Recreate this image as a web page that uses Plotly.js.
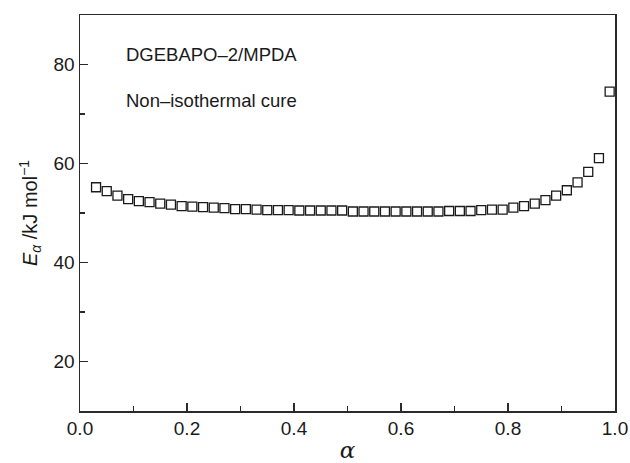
<!DOCTYPE html>
<html>
<head>
<meta charset="utf-8">
<script src="https://cdn.plot.ly/plotly-3.0.1.min.js"></script>
<style>html,body{margin:0;padding:0;background:#fff;}#chart{width:630px;height:463px;}</style>
</head>
<body>
<div id="chart"></div>
<script>
// conversion degree alpha
const alpha = [0.03,0.05,0.07,0.09,0.11,0.13,0.15,0.17,0.19,0.21,0.23,0.25,0.27,0.29,0.31,0.33,0.35,0.37,0.39,0.41,0.43,0.45,0.47,0.49,0.51,0.53,0.55,0.57,0.59,0.61,0.63,0.65,0.67,0.69,0.71,0.73,0.75,0.77,0.79,0.81,0.83,0.85,0.87,0.89,0.91,0.93,0.95,0.97,0.99];
// activation energy E_alpha, kJ/mol
const Ea = [55.2,54.4,53.5,52.8,52.4,52.2,51.9,51.7,51.4,51.3,51.2,51.1,51.0,50.8,50.8,50.7,50.6,50.6,50.6,50.5,50.5,50.5,50.5,50.5,50.3,50.3,50.3,50.3,50.3,50.3,50.3,50.3,50.3,50.4,50.4,50.4,50.6,50.7,50.7,51.1,51.4,51.9,52.6,53.5,54.6,56.2,58.3,61.1,74.5];
const xTicks = [0,0.2,0.4,0.6,0.8,1.0];
const yTicks = [20,40,60,80];
const labels = ["DGEBAPO\u20132/MPDA","Non\u2013isothermal cure"];

const font = "Liberation Sans, Arial, sans-serif";
const axisColor = "#2a2a2a";

Plotly.newPlot("chart", [{
  x: alpha, y: Ea, type: "scatter", mode: "markers",
  marker: {symbol: "square-open", size: 9, color: "#1a1a1a", line: {width: 1.3, color: "#1a1a1a"}},
  showlegend: false, hoverinfo: "skip"
}], {
  width: 630, height: 463,
  margin: {l: 80, r: 15, t: 15, b: 52},
  paper_bgcolor: "#fff", plot_bgcolor: "#fff",
  font: {family: font, size: 19, color: "#1a1a1a"},
  xaxis: {
    range: [0, 1], tickvals: xTicks, tickformat: ".1f",
    ticks: "inside", ticklen: 8, tickwidth: 1.2, tickcolor: axisColor,
    minor: {dtick: 0.1, ticks: "inside", ticklen: 5, tickwidth: 1.2, tickcolor: axisColor, showgrid: false},
    showline: true, linecolor: axisColor, linewidth: 1.5, mirror: true,
    showgrid: false, zeroline: false,
    tickfont: {size: 19},
    title: {text: "<i>\u03b1</i>", font: {size: 23, family: "DejaVu Serif, serif"}, standoff: 6}
  },
  yaxis: {
    range: [10, 90], tickvals: yTicks,
    ticks: "inside", ticklen: 8, tickwidth: 1.2, tickcolor: axisColor,
    minor: {tickvals: [30,50,70], ticks: "inside", ticklen: 5, tickwidth: 1.2, tickcolor: axisColor, showgrid: false},
    showline: true, linecolor: axisColor, linewidth: 1.5, mirror: true,
    showgrid: false, zeroline: false,
    tickfont: {size: 19},
    title: {text: "<i>E</i><sub><i>\u03b1</i></sub> /kJ mol<sup>\u22121</sup>", font: {size: 20}, standoff: 10}
  },
  annotations: [
    {text: labels[0], xref: "paper", yref: "paper", x: 0.083, y: 0.899, xanchor: "left", yanchor: "middle", showarrow: false, font: {size: 18.5}},
    {text: labels[1], xref: "paper", yref: "paper", x: 0.083, y: 0.783, xanchor: "left", yanchor: "middle", showarrow: false, font: {size: 18.5}}
  ]
}, {displayModeBar: false, staticPlot: true});
</script>
</body>
</html>
